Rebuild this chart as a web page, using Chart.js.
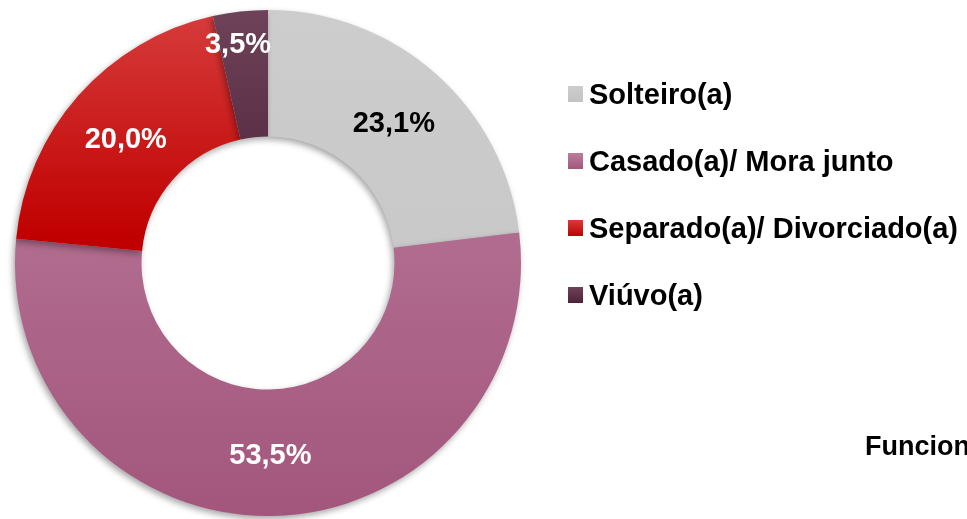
<!DOCTYPE html>
<html>
<head>
<meta charset="utf-8">
<script src="https://cdn.jsdelivr.net/npm/chart.js@4.4.0/dist/chart.umd.min.js"></script>
<style>
  html, body { margin: 0; padding: 0; background: #fff; }
  #wrap { position: relative; width: 967px; height: 519px; overflow: hidden; }
</style>
</head>
<body>
<div id="wrap"><canvas id="chart" width="967" height="519"></canvas></div>
<script>
// data
const categories = ['Solteiro(a)', 'Casado(a)/ Mora junto', 'Separado(a)/ Divorciado(a)', 'Viúvo(a)'];
const values = [23.1, 53.5, 20.0, 3.5];
const valueLabels = ['23,1%', '53,5%', '20,0%', '3,5%'];
const footerText = 'Funcionários';

// top / bottom colour of each slice gradient
const colorsTop = ['#cdcdcd', '#bb7e9d', '#d63c3c', '#6e4258'];
const colorsBottom = ['#c3c3c3', '#a3567c', '#c00000', '#4e2238'];
const gradientEnd = [1, 1, 0.45, 0.45];
const labelColors = ['#000', '#fff', '#fff', '#fff'];

const FONT = '"Liberation Sans", Arial, sans-serif';

function sliceGradient(ctx) {
    const chart = ctx.chart;
    const area = chart.chartArea;
    const i = ctx.dataIndex;
    if (!area) return colorsBottom[i];
    const g = chart.ctx.createLinearGradient(0, area.top, 0, area.bottom);
    g.addColorStop(0, colorsTop[i]);
    g.addColorStop(gradientEnd[i], colorsBottom[i]);
    return g;
}

// soft shadow under the ring
const shadowPlugin = {
    id: 'ringShadow',
    beforeDatasetsDraw(chart) {
        const c = chart.ctx;
        c.save();
        c.shadowColor = 'rgba(0,0,0,0.35)';
        c.shadowBlur = 6;
        c.shadowOffsetX = -2;
        c.shadowOffsetY = 3;
    },
    afterDatasetsDraw(chart) {
        chart.ctx.restore();
    }
};

// percentage labels on the slices
const labelPlugin = {
    id: 'sliceLabels',
    afterDatasetsDraw(chart) {
        const c = chart.ctx;
        const meta = chart.getDatasetMeta(0);
        c.save();
        c.font = 'bold 29px ' + FONT;
        c.textAlign = 'center';
        c.textBaseline = 'alphabetic';
        meta.data.forEach((arc, i) => {
            const p = arc.getProps(['x', 'y', 'startAngle', 'endAngle', 'innerRadius', 'outerRadius'], true);
            let mid = (p.startAngle + p.endAngle) / 2;
            let r = (p.innerRadius + p.outerRadius) / 2;
            // the small slice gets its label near the rim
            if (values[i] < 5) { r = p.outerRadius - 30; mid -= 0.025; }
            c.fillStyle = labelColors[i];
            c.fillText(valueLabels[i], p.x + Math.cos(mid) * r, p.y + Math.sin(mid) * r + 11);
        });
        c.restore();
    }
};

// legend on the right plus the cut off caption
const legendPlugin = {
    id: 'sideLegend',
    afterDraw(chart) {
        const c = chart.ctx;
        const rows = [94, 161, 228, 295];
        c.save();
        c.font = 'bold 29px ' + FONT;
        c.textBaseline = 'alphabetic';
        categories.forEach((name, i) => {
            const g = c.createLinearGradient(0, rows[i] - 8, 0, rows[i] + 8);
            g.addColorStop(0, colorsTop[i]);
            g.addColorStop(1, colorsBottom[i]);
            c.fillStyle = g;
            c.fillRect(568, rows[i] - 8, 15, 16);
            c.fillStyle = '#000';
            c.fillText(name, 589, rows[i] + 10);
        });
        c.font = 'bold 27px ' + FONT;
        c.fillText(footerText, 865, 455);
        c.restore();
    }
};

new Chart(document.getElementById('chart'), {
    type: 'doughnut',
    data: {
        labels: categories,
        datasets: [{
            data: values,
            backgroundColor: sliceGradient,
            borderWidth: 0
        }]
    },
    options: {
        responsive: false,
        animation: false,
        cutout: '50%',
        layout: { padding: { left: 15, top: 10, right: 446, bottom: 3 } },
        plugins: {
            legend: { display: false },
            tooltip: { enabled: false }
        }
    },
    plugins: [shadowPlugin, labelPlugin, legendPlugin]
});
</script>
</body>
</html>
